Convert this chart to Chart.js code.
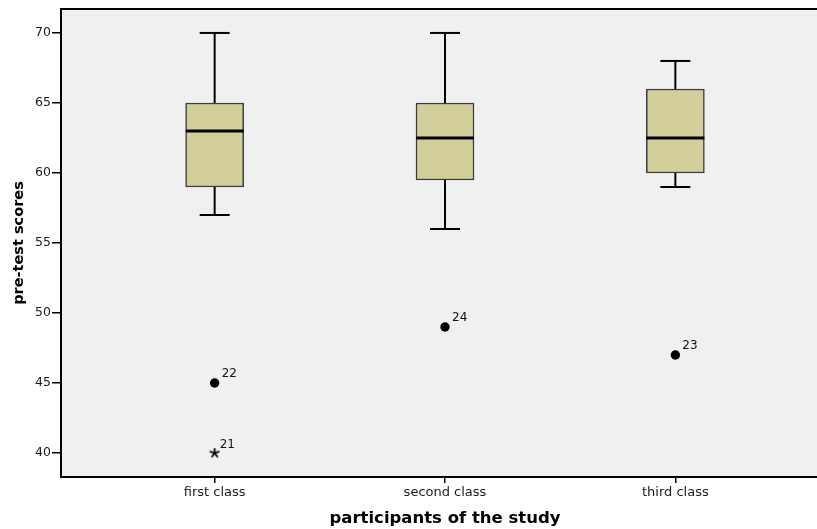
<!DOCTYPE html>
<html>
<head>
<meta charset="utf-8">
<script src="https://cdn.jsdelivr.net/npm/chart.js@4.4.1/dist/chart.umd.min.js"></script>
<style>
  html, body { margin: 0; padding: 0; background: #fff; overflow: hidden; }
  #wrap { width: 817px; height: 529px; overflow: hidden; }
</style>
</head>
<body>
<div id="wrap"><canvas id="boxChart" width="835" height="529" style="width:835px;height:529px"></canvas></div>
<script>
// --- data ---
const categories = ['first class', 'second class', 'third class'];
const whiskerLow = [57, 56, 59];
const q1 = [59, 59.5, 60];
const median = [63, 62.5, 62.5];
const q3 = [65, 65, 66];
const whiskerHigh = [70, 70, 68];

// outliers (circles) and extremes (stars), with SPSS case numbers
const outlierGroup = [1, 2, 3];
const outlierValues = [45, 49, 47];
const outlierIds = ['22', '24', '23'];
const extremeGroup = [1];
const extremeValues = [40];
const extremeIds = ['21'];

const yTicks = [40, 45, 50, 55, 60, 65, 70];

// --- style ---
const BOX_WIDTH = 58;
const CAP_WIDTH = 30;
const FONT = 'DejaVu Sans';

// small 5-armed asterisk used by SPSS for extreme values
function makeStar() {
    const c = document.createElement('canvas');
    c.width = 11; c.height = 11;
    const g = c.getContext('2d');
    g.strokeStyle = '#000';
    g.lineWidth = 1.8;
    g.lineCap = 'round';
    for (let k = 0; k < 5; k++) {
        const ang = -Math.PI / 2 + k * 2 * Math.PI / 5;
        g.beginPath();
        g.moveTo(5.5, 5.5);
        g.lineTo(5.5 + 4.4 * Math.cos(ang), 5.5 + 4.4 * Math.sin(ang));
        g.stroke();
    }
    return c;
}

const boxParts = {
    id: 'boxParts',
    beforeDraw(chart) {
        const { ctx, chartArea: a } = chart;
        ctx.save();
        ctx.fillStyle = '#f0f0f0';
        ctx.fillRect(a.left, a.top, a.right - a.left, a.bottom - a.top);
        ctx.restore();
    },
    afterDatasetsDraw(chart) {
        const { ctx, chartArea: a, scales: { x, y } } = chart;
        const seg = (x1, y1, x2, y2) => {
            ctx.beginPath(); ctx.moveTo(x1, y1); ctx.lineTo(x2, y2); ctx.stroke();
        };
        ctx.save();
        ctx.strokeStyle = '#000';

        // top frame line
        ctx.lineWidth = 2;
        seg(a.left, a.top, a.right, a.top);

        categories.forEach((c, i) => {
            const cx = x.getPixelForValue(i + 1);
            ctx.lineWidth = 2;
            seg(cx, y.getPixelForValue(q3[i]), cx, y.getPixelForValue(whiskerHigh[i]));
            seg(cx, y.getPixelForValue(q1[i]), cx, y.getPixelForValue(whiskerLow[i]));
            seg(cx - CAP_WIDTH / 2, y.getPixelForValue(whiskerHigh[i]), cx + CAP_WIDTH / 2, y.getPixelForValue(whiskerHigh[i]));
            seg(cx - CAP_WIDTH / 2, y.getPixelForValue(whiskerLow[i]), cx + CAP_WIDTH / 2, y.getPixelForValue(whiskerLow[i]));
            ctx.lineWidth = 3;
            seg(cx - BOX_WIDTH / 2, y.getPixelForValue(median[i]), cx + BOX_WIDTH / 2, y.getPixelForValue(median[i]));
        });

        // case labels
        ctx.fillStyle = '#111';
        ctx.font = '12px "' + FONT + '"';
        ctx.textAlign = 'left';
        ctx.textBaseline = 'alphabetic';
        outlierValues.forEach((v, i) => {
            ctx.fillText(outlierIds[i], x.getPixelForValue(outlierGroup[i]) + 7, y.getPixelForValue(v) - 6);
        });
        extremeValues.forEach((v, i) => {
            ctx.fillText(extremeIds[i], x.getPixelForValue(extremeGroup[i]) + 5, y.getPixelForValue(v) - 5);
        });
        ctx.restore();
    }
};

const ctx = document.getElementById('boxChart');

new Chart(ctx, {
    type: 'bar',
    data: {
        datasets: [
            {
                type: 'bar',
                data: q1.map((v, i) => ({ x: i + 1, y: [v, q3[i]] })),
                backgroundColor: '#d3cf9b',
                borderColor: '#3c3c3c',
                borderWidth: 1.5,
                borderSkipped: false,
                barThickness: BOX_WIDTH
            },
            {
                type: 'scatter',
                data: outlierValues.map((v, i) => ({ x: outlierGroup[i], y: v })),
                pointStyle: 'circle',
                pointRadius: 4.7,
                backgroundColor: '#000',
                borderColor: '#000',
                borderWidth: 0
            },
            {
                type: 'scatter',
                data: extremeValues.map((v, i) => ({ x: extremeGroup[i], y: v })),
                pointStyle: makeStar(),
                pointRadius: 5
            }
        ]
    },
    options: {
        responsive: false,
        animation: false,
        layout: { padding: { top: 9, left: 0, right: 0, bottom: 0 } },
        plugins: {
            legend: { display: false },
            tooltip: { enabled: false }
        },
        scales: {
            x: {
                type: 'linear',
                min: 0.333,
                max: 3.667,
                offset: false,
                afterBuildTicks: s => { s.ticks = categories.map((c, i) => ({ value: i + 1 })); },
                afterFit: s => { s.height = 52; },
                grid: { offset: false, drawOnChartArea: false, drawTicks: true, tickLength: 6, color: '#000', lineWidth: 1.5 },
                border: { display: true, color: '#000', width: 2 },
                ticks: {
                    padding: 2,
                    color: '#1a1a1a',
                    maxRotation: 0,
                    autoSkip: false,
                    font: { family: FONT, size: 13 },
                    callback: v => categories[Math.round(v) - 1] || ''
                },
                title: {
                    display: true,
                    text: 'participants of the study',
                    color: '#000',
                    font: { family: FONT, size: 16.5, weight: 'bold' },
                    padding: { top: 0, bottom: 0 }
                }
            },
            y: {
                min: 38.29,
                max: 71.71,
                afterBuildTicks: s => { s.ticks = yTicks.map(v => ({ value: v })); },
                afterFit: s => { s.width = 61; },
                grid: { drawOnChartArea: false, drawTicks: true, tickLength: 9, color: '#000', lineWidth: 1.5 },
                border: { display: true, color: '#000', width: 2 },
                ticks: {
                    padding: 1,
                    color: '#1a1a1a',
                    font: { family: FONT, size: 12.5 }
                },
                title: {
                    display: true,
                    text: 'pre-test scores',
                    color: '#000',
                    font: { family: FONT, size: 14.5, weight: 'bold' },
                    padding: { top: 11, bottom: 0 }
                }
            }
        }
    },
    plugins: [boxParts]
});
</script>
</body>
</html>
